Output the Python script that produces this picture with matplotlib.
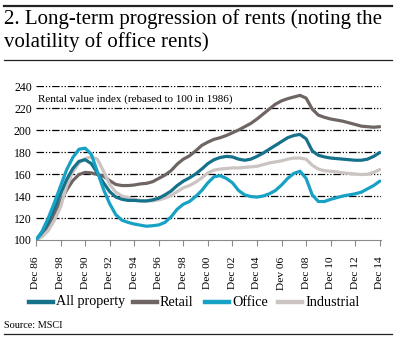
import matplotlib
matplotlib.use("Agg")
import matplotlib.pyplot as plt
from matplotlib.lines import Line2D
import numpy as np

# half-yearly readings, Dec 1986 = 100
years = np.arange(1986, 2014.01, 0.5)

all_property = [100, 107, 116, 129, 142, 155, 165, 171.5, 173, 169.5,
                161, 152, 144, 139, 137, 136, 136, 135.5, 135.5, 136.5,
                138, 141, 144.5, 149.5, 153.5, 156.5, 160, 164.5, 169.5, 173,
                175, 176, 175.5, 173.5, 172.5, 173.5, 176, 179, 182.5, 186,
                189.5, 193, 195, 196, 192, 181, 177, 175.5, 174.5, 174,
                173.5, 173, 172.5, 172.5, 173.5, 176, 179.5]
retail = [100, 105, 113, 124, 135, 145.5, 154, 159.5, 161.5, 161,
          159.5, 158, 154, 150.5, 149.5, 149.5, 150, 151, 151.5, 153,
          156, 159, 163, 169, 173.5, 176.5, 181, 186, 189, 191.5,
          193, 195, 197.5, 200, 203, 206, 210, 214.5, 219, 223.5,
          226.5, 228.5, 230, 231.5, 229, 219, 213.5, 211.5, 210, 209,
          208, 206.5, 205, 203.5, 203, 202.5, 203]
office = [100, 108, 120, 134, 149, 164, 175, 182.5, 183.5, 178,
          162, 146, 133, 123, 118, 116, 114.5, 113.5, 112.5, 113,
          113.7, 116, 121, 128, 132.5, 135, 139.5, 145, 152, 157.5,
          158.5, 156, 152, 145, 141, 139.5, 139, 140, 142, 145,
          150, 156, 160.5, 162.5, 156, 141, 135, 135, 137, 138.5,
          140, 141, 142, 143.5, 146.5, 149.5, 153.5]
industrial = [100, 103, 108.5, 118, 130, 149, 162, 170, 174, 175.5,
              173.5, 162.5, 150.5, 143.5, 140, 138.5, 137, 136, 135.5, 135.5,
              136.5, 138, 140.5, 144, 147.5, 149.5, 152.5, 156.5, 161, 163.5,
              164.5, 165, 165.5, 165.5, 166, 166.5, 167, 168.5, 170, 171,
              172, 173.5, 174.5, 174.5, 173.5, 168, 164.5, 163, 162.5, 162,
              161, 160.5, 160, 159.5, 159.8, 161.5, 164]

series = ["All property", "Retail", "Office", "Industrial"]
colors = ["#16718a", "#6f6664", "#17a1c4", "#cbc4c2"]

tick_years = list(range(1986, 2015, 2))
tick_labels = ["Dec 86", "Dec 98", "Dec 90", "Dec 92", "Dec 94", "Dec 96",
               "Dec 98", "Dec 00", "Dec 02", "Dec 04", "Dev 06", "Dec 08",
               "Dec 10", "Dec 12", "Dec 14"]
y_ticks = list(range(100, 241, 20))

plt.rcParams['font.family'] = ["Liberation Serif", "DejaVu Serif"]

W, H = 398, 339
fig = plt.figure(figsize=(W / 100, H / 100), dpi=100)
ax = fig.add_axes([36 / W, 1 - 240 / H, 345 / W, 154 / H])

# draw order: retail, industrial, all property, office on top
for vals, col in [(retail, colors[1]), (industrial, colors[3]),
                  (all_property, colors[0]), (office, colors[2])]:
    ax.plot(years, vals, color=col, lw=2.3, solid_capstyle='round',
            solid_joinstyle='round', zorder=3)

ax.set_xlim(1986, 2014.1)
ax.set_ylim(100, 240)
for v in y_ticks[1:]:
    ax.axhline(v, color='black', lw=0.9, dashes=(6, 1.5, 1, 1.5, 1, 1.5), zorder=1)

ax.set_yticks(y_ticks)
ax.set_yticklabels([str(v) for v in y_ticks], fontsize=8.5)
ax.set_xticks(tick_years)
ax.set_xticklabels(tick_labels, rotation=90, fontsize=8.2)
ax.tick_params(axis='y', length=0, pad=3)
ax.tick_params(axis='x', length=4, color='#8a8a8a', width=0.8, pad=8)
for s in ['top', 'right', 'left']:
    ax.spines[s].set_visible(False)
ax.spines['bottom'].set_color('#8a8a8a')
ax.spines['bottom'].set_linewidth(0.8)
ax.patch.set_alpha(0)

ax.text(0.006, 0.915, "Rental value index (rebased to 100 in 1986)",
        transform=ax.transAxes, fontsize=8, va='center', ha='left')

# title and rules
fig.add_artist(Line2D([4 / W, 392 / W], [1 - 6 / H] * 2, color='#222222', lw=1.6))
fig.add_artist(Line2D([4 / W, 392 / W], [1 - 59.5 / H] * 2, color='#222222', lw=0.9))
fig.add_artist(Line2D([4 / W, 392 / W], [1 - 334 / H] * 2, color='#222222', lw=0.9))
fig.text(4 / W, 1 - 19 / H, "2. Long-term progression of rents (noting the",
         fontsize=15, va='center', ha='left')
fig.text(4 / W, 1 - 42 / H, "volatility of office rents)",
         fontsize=15, va='center', ha='left')

# legend
leg_x = [29, 133, 205, 278]
for name, col, x0 in zip(series, colors, leg_x):
    fig.add_artist(Line2D([x0 / W, (x0 + 24) / W], [1 - 302 / H] * 2, color=col, lw=3.2))
    fig.text((x0 + 27) / W, 1 - 302 / H, name, fontsize=10.2, va='center', ha='left')

fig.text(4 / W, 1 - 326 / H, "Source: MSCI", fontsize=7.4, va='center', ha='left')

fig.savefig("out.png", dpi=100)
